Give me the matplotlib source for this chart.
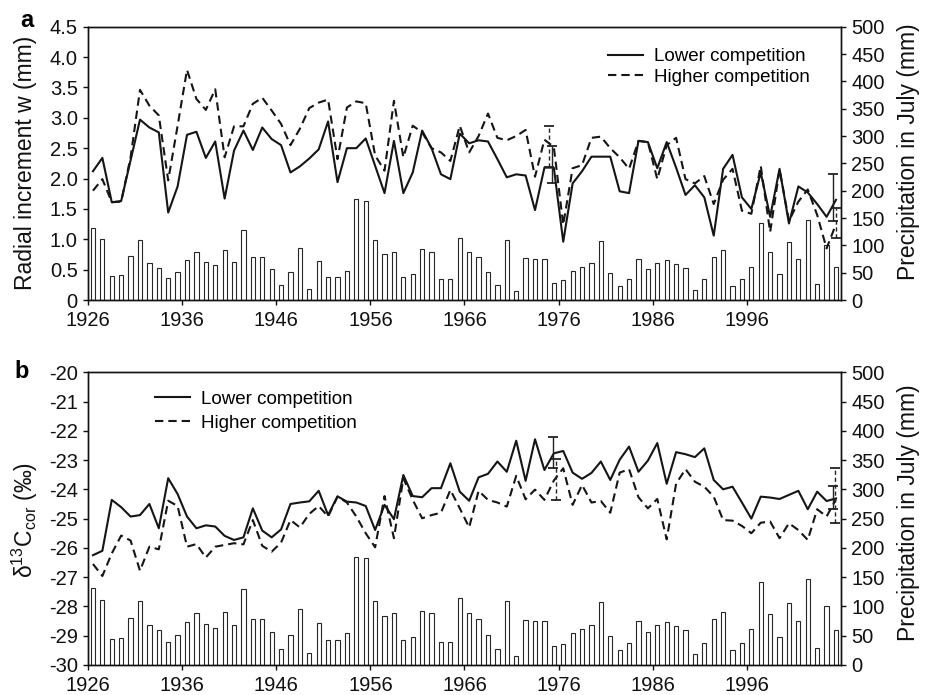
import numpy as np
import matplotlib
matplotlib.use('Agg')
import matplotlib.pyplot as plt
from matplotlib.ticker import FixedLocator, FuncFormatter

plt.rcParams['font.family'] = ['Liberation Sans', 'DejaVu Sans']
plt.rcParams['mathtext.fontset'] = 'custom'
plt.rcParams['mathtext.rm'] = 'Liberation Sans'
plt.rcParams['mathtext.it'] = 'Liberation Sans:italic'

# ---------------- data ----------------
years = np.arange(1926, 2006)

precip_july = [132, 111, 44, 46, 81, 109, 68, 59, 40, 52,
               73, 88, 70, 64, 91, 69, 129, 79, 79, 57,
               27, 52, 95, 20, 71, 43, 43, 54, 184, 182,
               109, 84, 88, 43, 47, 93, 88, 39, 39, 114,
               88, 79, 52, 27, 109, 16, 77, 75, 75, 32,
               36, 54, 61, 68, 108, 50, 25, 38, 75, 56,
               68, 73, 66, 59, 19, 38, 79, 91, 25, 38,
               61, 141, 87, 48, 106, 75, 147, 29, 100, 60]

w_lower = [2.12, 2.34, 1.61, 1.63, 2.30, 2.97, 2.84, 2.76, 1.44, 1.87,
           2.72, 2.77, 2.34, 2.61, 1.67, 2.46, 2.79, 2.47, 2.84, 2.65,
           2.55, 2.10, 2.20, 2.33, 2.48, 2.94, 1.94, 2.50, 2.50, 2.66,
           2.21, 1.76, 2.62, 1.76, 2.10, 2.79, 2.50, 2.07, 1.99, 2.74,
           2.58, 2.63, 2.61, 2.32, 2.02, 2.07, 2.05, 1.48, 2.18, 2.18,
           0.96, 1.92, 2.12, 2.36, 2.36, 2.36, 1.79, 1.76, 2.62, 2.60,
           2.17, 2.60, 2.18, 1.73, 1.89, 1.69, 1.06, 2.16, 2.39, 1.69,
           1.50, 2.10, 1.37, 2.16, 1.26, 1.87, 1.77, 1.58, 1.37, 1.65]

w_higher = [1.80, 1.99, 1.61, 1.62, 2.35, 3.46, 3.20, 3.04, 1.97, 2.87,
            3.79, 3.31, 3.13, 3.47, 2.35, 2.86, 2.86, 3.23, 3.33, 3.12,
            2.90, 2.55, 2.82, 3.16, 3.25, 3.30, 2.32, 3.17, 3.27, 3.24,
            2.38, 2.13, 3.28, 2.35, 2.87, 2.76, 2.50, 2.43, 2.29, 2.87,
            2.43, 2.70, 3.07, 2.67, 2.63, 2.70, 2.80, 2.03, 2.64, 2.52,
            1.24, 2.17, 2.22, 2.67, 2.69, 2.50, 2.35, 2.16, 2.62, 2.60,
            1.99, 2.55, 2.67, 1.99, 1.92, 2.04, 1.58, 1.98, 2.16, 1.47,
            1.42, 2.21, 1.12, 2.15, 1.30, 1.62, 1.82, 1.40, 0.85, 1.25]

d13_lower = [-26.25, -26.10, -24.36, -24.61, -24.93, -24.88, -24.50, -25.33, -23.62, -24.16,
             -24.93, -25.33, -25.23, -25.27, -25.59, -25.73, -25.64, -24.65, -25.41, -25.64,
             -25.37, -24.50, -24.45, -24.41, -24.05, -24.88, -24.24, -24.42, -24.45, -24.57,
             -25.39, -24.53, -25.02, -23.51, -24.23, -24.27, -23.96, -23.96, -23.11, -24.08,
             -24.39, -23.59, -23.47, -23.05, -23.40, -22.34, -23.71, -22.29, -23.34, -22.77,
             -22.69, -23.43, -23.64, -23.44, -23.05, -23.68, -22.99, -22.54, -23.40, -23.02,
             -22.42, -23.81, -22.73, -22.80, -22.90, -22.60, -23.68, -24.00, -23.91, -24.45,
             -25.00, -24.25, -24.28, -24.33, -24.19, -24.05, -24.68, -24.08, -24.40, -24.31]

d13_higher = [-26.55, -26.96, -26.19, -25.58, -25.75, -26.78, -25.96, -26.05, -24.39, -24.57,
              -25.96, -25.87, -26.33, -25.96, -25.90, -25.84, -25.88, -25.05, -25.93, -26.13,
              -25.82, -25.05, -25.30, -24.84, -24.57, -24.93, -24.25, -24.45, -24.93, -25.50,
              -25.98, -24.23, -25.67, -23.62, -24.36, -24.99, -24.88, -24.80, -24.02, -24.65,
              -25.30, -24.05, -24.36, -24.45, -24.59, -23.54, -24.34, -24.01, -24.36, -23.70,
              -23.28, -24.53, -23.85, -24.45, -24.40, -24.80, -23.43, -23.31, -24.27, -24.65,
              -24.33, -25.71, -23.81, -23.31, -23.74, -23.91, -24.25, -25.05, -25.07, -25.25,
              -25.50, -25.14, -25.10, -25.67, -25.16, -25.39, -25.73, -24.68, -24.93, -24.34]

# error bars (position on the year axis, lower and upper limit)
w_err_lower_x = [1975.3, 2005.2]
w_err_lower_lo = [1.92, 1.30]
w_err_lower_hi = [2.53, 2.07]
w_err_higher_x = [1975.0, 2005.45]
w_err_higher_lo = [2.19, 1.02]
w_err_higher_hi = [2.87, 1.51]

d13_err_lower_x = [1975.45, 2005.15]
d13_err_lower_lo = [-23.28, -24.68]
d13_err_lower_hi = [-22.22, -23.88]
d13_err_higher_x = [1975.7, 2005.4]
d13_err_higher_lo = [-24.36, -25.16]
d13_err_higher_hi = [-22.97, -23.28]

x_ticks = [1926, 1936, 1946, 1956, 1966, 1976, 1986, 1996]
w_ticks = [0, 0.5, 1.0, 1.5, 2.0, 2.5, 3.0, 3.5, 4.0, 4.5]
d13_ticks = [-30, -29, -28, -27, -26, -25, -24, -23, -22, -21, -20]
p_ticks = [0, 50, 100, 150, 200, 250, 300, 350, 400, 450, 500]

series_labels = ['Lower competition', 'Higher competition']

# ---------------- styling ----------------
LINE = '#151515'
DASH = (0, (4, 2.4))
TICK_FS = 14.5
LAB_FS = 16.5
LEG_FS = 13.5

fig = plt.figure(figsize=(9.31, 6.95), dpi=100)


def draw_errors(ax, xs, lo, hi, dashed):
    lo = np.asarray(lo); hi = np.asarray(hi)
    mid = (lo + hi) / 2
    half = (hi - lo) / 2
    cont = ax.errorbar(xs, mid, yerr=half, fmt='none', ecolor='#222',
                       elinewidth=1.0, capsize=3.5, capthick=1.3, zorder=4)
    if dashed:
        cont[2][0].set_linestyle((0, (3, 2)))


def make_panel(rect, lower, higher, ylim, yticks, yfmt, errs, leg_anchor, leg_space):
    ax = fig.add_axes(rect)
    ax2 = ax.twinx()
    xpos = years + 0.5
    ax2.bar(xpos, precip_july, width=0.45, facecolor='white',
            edgecolor='#262626', linewidth=0.8)
    ax2.set_ylim(0, 500)
    ax2.yaxis.set_major_locator(FixedLocator(p_ticks))

    ax.plot(xpos, lower, color=LINE, lw=1.5, label=series_labels[0], zorder=3)
    ax.plot(xpos, higher, color=LINE, lw=1.5, ls=DASH, label=series_labels[1], zorder=3)
    for xs, lo, hi, dashed in errs:
        draw_errors(ax, xs, lo, hi, dashed)

    ax.set_zorder(ax2.get_zorder() + 1)
    ax.patch.set_visible(False)

    ax.set_xlim(1926, 2006)
    ax.set_ylim(*ylim)
    ax.xaxis.set_major_locator(FixedLocator(x_ticks))
    ax.yaxis.set_major_locator(FixedLocator(yticks))
    ax.yaxis.set_major_formatter(FuncFormatter(yfmt))

    for a in (ax, ax2):
        for s in a.spines.values():
            s.set_linewidth(1.0)
            s.set_color('#111')
    ax.tick_params(axis='both', direction='out', length=3.5, width=1.0,
                   labelsize=TICK_FS, colors='#111')
    ax.tick_params(axis='y', pad=4)
    ax.tick_params(axis='x', pad=4.5)
    ax2.tick_params(axis='y', direction='out', length=3.5, width=1.0,
                    labelsize=TICK_FS, pad=4, colors='#111')

    ax.legend(loc='upper left', bbox_to_anchor=leg_anchor, frameon=False,
              fontsize=LEG_FS, handlelength=1.87, handletextpad=0.6,
              labelspacing=leg_space, borderpad=0, borderaxespad=0)
    return ax, ax2


def fmt_w(v, pos):
    return '0' if abs(v) < 1e-9 else f'{v:.1f}'


def fmt_d(v, pos):
    return f'{int(round(v))}'


ax_a, ax_a2 = make_panel([0.0948, 0.5683, 0.8082, 0.3933], w_lower, w_higher,
                         (0, 4.5), w_ticks, fmt_w,
                         [(w_err_lower_x, w_err_lower_lo, w_err_lower_hi, False),
                          (w_err_higher_x, w_err_higher_lo, w_err_higher_hi, True)],
                         (0.6907, 0.922), 0.18)

ax_b, ax_b2 = make_panel([0.0948, 0.0432, 0.8082, 0.4212], d13_lower, d13_higher,
                         (-30, -20), d13_ticks, fmt_d,
                         [(d13_err_lower_x, d13_err_lower_lo, d13_err_lower_hi, False),
                          (d13_err_higher_x, d13_err_higher_lo, d13_err_higher_hi, True)],
                         (0.0886, 0.937), 0.38)

# axis labels
fig.text(0.027, 0.7655, 'Radial increment w (mm)', rotation=90, ha='center',
         va='center', fontsize=LAB_FS, color='#111')
fig.text(0.976, 0.7818, 'Precipitation in July (mm)', rotation=90, ha='center',
         va='center', fontsize=LAB_FS, color='#111')
fig.text(0.027, 0.252, 'δ$^{13}$C$_{\\mathregular{cor}}$ (‰)', rotation=90,
         ha='center', va='center', fontsize=LAB_FS, color='#111')
fig.text(0.976, 0.262, 'Precipitation in July (mm)', rotation=90, ha='center',
         va='center', fontsize=LAB_FS, color='#111')

# panel letters
fig.text(0.022, 0.9616, 'a', fontsize=17, fontweight='bold', ha='left', va='baseline')
fig.text(0.016, 0.456, 'b', fontsize=17, fontweight='bold', ha='left', va='baseline')

fig.savefig('out.png', dpi=100)
